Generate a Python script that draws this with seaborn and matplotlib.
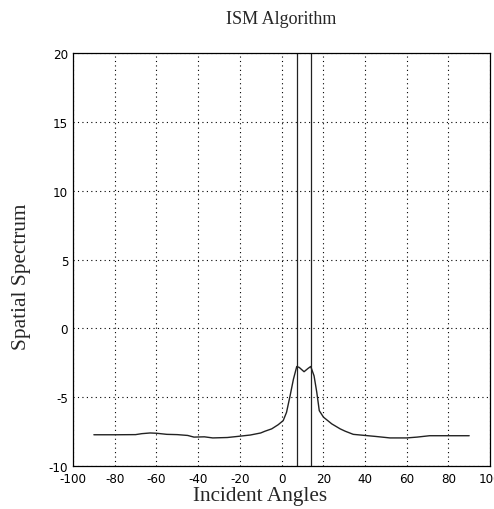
import matplotlib
matplotlib.use("Agg")
import matplotlib.pyplot as plt
import seaborn as sns
import pandas as pd

# ---- data ----
angles = [-90, -80, -70, -67, -63, -60, -55, -50, -45, -42, -37, -33, -26, -21,
          -15, -10, -7.9, -4.7, -1.6, 0.8, 2.4, 4.1, 5.7, 7.3, 8.5, 10.8, 12.8,
          14.0, 15.6, 16.9, 18.1, 20.1, 24.1, 28.1, 30.5, 34.4, 40, 45, 52, 60,
          65, 71, 80, 90]
spectrum = [-7.73, -7.73, -7.72, -7.65, -7.6, -7.62, -7.7, -7.72, -7.78, -7.9,
            -7.88, -7.96, -7.93, -7.85, -7.75, -7.6, -7.47, -7.3, -7.0, -6.7,
            -6.1, -4.9, -3.7, -2.77, -2.84, -3.15, -2.9, -2.77, -3.45, -4.64,
            -5.98, -6.45, -6.94, -7.3, -7.47, -7.7, -7.78, -7.85, -7.96, -7.96,
            -7.9, -7.8, -7.8, -7.8]
true_angles = [7.6, 14.0]
x_ticks = [-100, -80, -60, -40, -20, 0, 20, 40, 60, 80, 100]
y_ticks = [-10, -5, 0, 5, 10, 15, 20]

df = pd.DataFrame({"Incident Angles": angles, "Spatial Spectrum": spectrum})

sns.set_style("white")
plt.rcParams["font.family"] = ["Liberation Serif", "DejaVu Serif"]

fig = plt.figure(figsize=(4.94, 5.10), dpi=100)
ax = fig.add_axes([0.1478, 0.0843, 0.992 - 0.1478, 0.894 - 0.0843])

sns.lineplot(data=df, x="Incident Angles", y="Spatial Spectrum", ax=ax,
             color="#222222", linewidth=1.0)
for a in true_angles:
    ax.axvline(a, color="#222222", linewidth=0.9)

ax.set_xlim(-100, 100)
ax.set_ylim(-10, 20)
ax.set_xticks(x_ticks)
ax.set_yticks(y_ticks)
ax.set_xticklabels([str(t) for t in x_ticks])
ax.set_yticklabels([str(t) for t in y_ticks])

ax.grid(True, color="black", linestyle=(0, (1, 3)), linewidth=0.8)
for s in ax.spines.values():
    s.set_visible(True)
    s.set_color("black")
    s.set_linewidth(0.9)

ax.tick_params(direction="in", length=3, width=0.6, colors="black")
ax.tick_params(axis="y", pad=3.5)
ax.tick_params(axis="x", pad=4)
for lab in ax.get_xticklabels() + ax.get_yticklabels():
    lab.set_family(["DejaVu Sans"])
    lab.set_fontstretch("condensed")
    lab.set_fontsize(9.5)

ax.set_title("ISM Algorithm", fontsize=13, pad=22)
ax.set_xlabel("Incident Angles", fontsize=15.3)
ax.set_ylabel("Spatial Spectrum", fontsize=15.3)
ax.xaxis.set_label_coords(0.448, -0.048)
ax.yaxis.set_label_coords(-0.100, 0.46)

fig.savefig("out.png", dpi=100, facecolor="white")
